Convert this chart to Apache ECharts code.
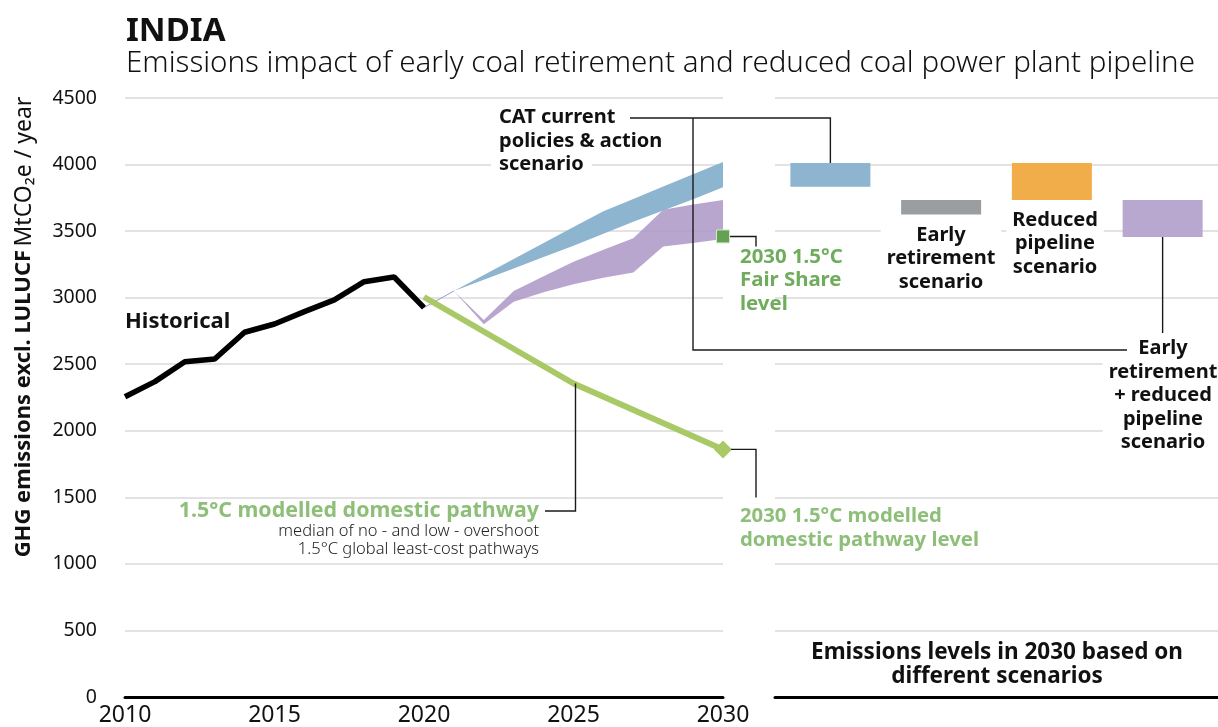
<!DOCTYPE html>
<html>
<head>
<meta charset="utf-8">
<title>India - emissions impact of early coal retirement</title>
<script src="https://cdn.jsdelivr.net/npm/echarts@6/dist/echarts.min.js"></script>
<style>
  html, body { margin: 0; padding: 0; background: #fff; }
  #main { width: 1218px; height: 727px; }
</style>
</head>
<body>
<div id="main"></div>
<script>
// Years on the left panel
var years = ['2010', '2011', '2012', '2013', '2014', '2015', '2016', '2017', '2018', '2019', '2020',
             '2021', '2022', '2023', '2024', '2025', '2026', '2027', '2028', '2029', '2030'];

// Historical emissions, MtCO2e
var historical = [2256, 2369, 2519, 2539, 2740, 2802, 2895, 2983, 3120, 3155, 2925,
                  null, null, null, null, null, null, null, null, null, null];

// Thin link between last historical year and the scenarios
var linkLine = [null, null, null, null, null, null, null, null, null, null, 2925,
                3050, null, null, null, null, null, null, null, null, null];

// CAT current policies & action range
var cpLow  = [null, null, null, null, null, null, null, null, null, null, null,
              3050, 3135, 3220, 3305, 3390, 3480, 3570, 3655, 3740, 3830];
var cpHigh = [null, null, null, null, null, null, null, null, null, null, null,
              3050, 3170, 3290, 3410, 3530, 3650, 3742, 3835, 3927, 4020];

// Early retirement + reduced pipeline range
var erLow  = [null, null, null, null, null, null, null, null, null, null, null,
              3050, 2800, 2970, 3040, 3100, 3150, 3190, 3385, 3410, 3440];
var erHigh = [null, null, null, null, null, null, null, null, null, null, null,
              3050, 2832, 3050, 3160, 3270, 3360, 3446, 3660, 3700, 3734];

// 1.5C modelled domestic pathway
var pathway = [null, null, null, null, null, null, null, null, null, null, 3005,
               null, null, null, null, 2355, null, null, null, null, 1860];

var fairShare2030 = 3460;
var modelled2030 = 1860;

// Right panel: 2030 levels per scenario
var scenarios = ['CAT current policies & action', 'Early retirement', 'Reduced pipeline',
                 'Early retirement + reduced pipeline'];
var scenarioLow  = [3834, 3624, 3734, 3456];
var scenarioHigh = [4012, 3734, 4012, 3734];
var scenarioColors = ['#8db5cf', '#9a9ea1', '#f0ad4a', '#b8a7ce'];

var yTicks = { min: 0, max: 4500, interval: 500 };

var F = '"Noto Sans", sans-serif';
var GREEN_LINE = '#a9c967';
var GREEN_TEXT = '#8dbf78';
var GREEN_FAIR = '#6fac5c';

function diff(hi, lo) {
    return hi.map(function (v, i) { return v == null ? null : v - lo[i]; });
}

var chart = echarts.init(document.getElementById('main'));

var option = {
    backgroundColor: '#fff',
    animation: false,
    textStyle: { fontFamily: F },
    title: {
        text: 'INDIA',
        subtext: 'Emissions impact of early coal retirement and reduced coal power plant pipeline',
        left: 121, top: 10, itemGap: 1,
        textStyle: { fontSize: 33, fontWeight: 'bold', color: '#111', fontFamily: F },
        subtextStyle: { fontSize: 29.5, fontWeight: 300, color: '#111', fontFamily: F }
    },
    grid: [
        { left: 125, width: 598, top: 98, height: 599 },
        { left: 775, width: 447, top: 98, height: 599 }
    ],
    xAxis: [{
        type: 'category', gridIndex: 0, data: years, boundaryGap: false,
        axisLine: { lineStyle: { color: '#000', width: 3 } },
        axisTick: { show: false },
        axisLabel: { interval: 4, fontSize: 23, color: '#111', margin: 7, fontFamily: F },
        splitLine: { show: false }
    }, {
        type: 'category', gridIndex: 1, data: scenarios,
        axisLine: { lineStyle: { color: '#000', width: 3 } },
        axisTick: { show: false },
        axisLabel: { show: false }
    }],
    yAxis: [{
        type: 'value', gridIndex: 0, min: yTicks.min, max: yTicks.max, interval: yTicks.interval,
        axisLine: { show: false }, axisTick: { show: false },
        axisLabel: { fontSize: 19.5, color: '#111', margin: 28, fontFamily: F,
                     formatter: function (v) { return String(v); } },
        splitLine: { lineStyle: { color: '#dadada', width: 1.5 } }
    }, {
        type: 'value', gridIndex: 1, min: yTicks.min, max: yTicks.max, interval: yTicks.interval,
        axisLine: { show: false }, axisTick: { show: false }, axisLabel: { show: false },
        splitLine: { lineStyle: { color: '#dadada', width: 1.5 } }
    }],
    series: [
        // current policies band
        { type: 'line', stack: 'cp', data: cpLow, symbol: 'none', lineStyle: { width: 0 }, z: 2 },
        { type: 'line', stack: 'cp', data: diff(cpHigh, cpLow), symbol: 'none',
          lineStyle: { width: 0 }, areaStyle: { color: '#8db5cf', opacity: 1 }, z: 2 },
        // early retirement + reduced pipeline band
        { type: 'line', stack: 'er', data: erLow, symbol: 'none', lineStyle: { width: 0 }, z: 3 },
        { type: 'line', stack: 'er', data: diff(erHigh, erLow), symbol: 'none',
          lineStyle: { width: 0 }, areaStyle: { color: 'rgb(173,151,199)', opacity: 0.85 }, z: 3 },
        { type: 'line', data: linkLine, symbol: 'none', lineStyle: { color: '#9c98d0', width: 1 }, z: 3 },
        // historical
        { type: 'line', data: historical, symbol: 'none', lineStyle: { color: '#000', width: 5.5 }, z: 5 },
        // 1.5C pathway
        { type: 'line', data: pathway, connectNulls: true, symbol: 'none',
          lineStyle: { color: GREEN_LINE, width: 6 }, z: 4 },
        { type: 'scatter', data: [['2030', modelled2030]], symbol: 'diamond', symbolSize: 18,
          itemStyle: { color: GREEN_LINE, opacity: 1 }, z: 6 },
        { type: 'scatter', data: [['2030', fairShare2030]], symbol: 'rect', symbolSize: 13,
          itemStyle: { color: '#62a252', borderColor: '#d5e8cc', borderWidth: 1, opacity: 1 }, z: 6 },
        // right panel floating boxes
        { type: 'bar', xAxisIndex: 1, yAxisIndex: 1, stack: 'box', barWidth: 80,
          data: scenarioLow, itemStyle: { color: 'rgba(0,0,0,0)' }, silent: true },
        { type: 'bar', xAxisIndex: 1, yAxisIndex: 1, stack: 'box', barWidth: 80,
          data: diff(scenarioHigh, scenarioLow).map(function (v, i) {
              return { value: v, itemStyle: { color: scenarioColors[i] } };
          }) }
    ]
};

chart.setOption(option);

function px(x, y) { return chart.convertToPixel({ gridIndex: 0 }, [x, y]); }
function px2(i, y) { return chart.convertToPixel({ gridIndex: 1 }, [i, y]); }

function label(x, y, text, o) {
    o = o || {};
    var st = {
        x: x, y: y, text: text,
        fill: o.color || '#111',
        fontFamily: F, fontSize: o.size || 20, fontWeight: o.weight || 'bold',
        align: o.align || 'left', textAlign: o.align || 'left',
        verticalAlign: 'middle', textVerticalAlign: 'middle',
        lineHeight: o.lh || 23.5
    };
    if (o.bg) { st.backgroundColor = o.bg; st.padding = o.pad || [0, 6]; }
    return { type: 'text', z: 50, style: st };
}

function wire(points) {
    return { type: 'polyline', z: 60, shape: { points: points },
             style: { stroke: '#1a1a1a', lineWidth: 1.4, fill: null } };
}

var box0 = px2(0, scenarioHigh[0]);
var box3 = px2(3, scenarioLow[3]);
var fs = px('2030', fairShare2030);
var md = px('2030', modelled2030);
var p25 = px('2025', pathway[15]);

chart.setOption({
    graphic: [
        // y axis title, rotated
        { type: 'text', x: 24, y: 327, rotation: Math.PI / 2, z: 50,
          style: {
              text: '{b|GHG emissions excl. LULUCF} {n|MtCO\u2082e / year}',
              align: 'center', textAlign: 'center',
              verticalAlign: 'middle', textVerticalAlign: 'middle',
              rich: {
                  b: { fontSize: 22, fontWeight: 'bold', fill: '#111', color: '#111', fontFamily: F },
                  n: { fontSize: 23, fontWeight: 'normal', fill: '#111', color: '#111', fontFamily: F }
              }
          } },
        label(125, 322, 'Historical', { size: 22 }),
        label(499, 129.5, 'CAT current\npolicies & action'),
        label(491, 164, 'scenario', { bg: '#fff', pad: [0, 8, 0, 8] }),
        label(740, 280.5, '2030 1.5\u00b0C\nFair Share\nlevel', { size: 20.4, color: GREEN_FAIR }),
        label(941, 258.5, 'Early\nretirement\nscenario', { align: 'center', bg: '#fff' }),
        label(1055, 243.5, 'Reduced\npipeline\nscenario', { align: 'center', bg: '#fff' }),
        label(1163, 395.5, 'Early\nretirement\n+ reduced\npipeline\nscenario', { align: 'center', bg: '#fff' }),
        label(539, 511, '1.5\u00b0C modelled domestic pathway', { align: 'right', size: 21.4, color: GREEN_TEXT }),
        label(539, 540, 'median of no - and low - overshoot\n1.5\u00b0C global least-cost pathways',
              { align: 'right', size: 16.5, weight: 300, lh: 18, color: '#222' }),
        label(740, 528, '2030 1.5\u00b0C modelled\ndomestic pathway level', { size: 20.3, lh: 24, color: GREEN_TEXT }),
        label(997, 665, 'Emissions levels in 2030 based on\ndifferent scenarios', { align: 'center', size: 22.5, lh: 24 }),

        wire([[630, 118], [box0[0], 118], [box0[0], box0[1]]]),
        wire([[693, 118], [693, 350], [1127, 350]]),
        wire([[box3[0], box3[1]], [box3[0], 333]]),
        wire([[fs[0] + 7, fs[1]], [fs[0] + 33, fs[1]], [fs[0] + 33, fs[1] + 10]]),
        wire([[md[0] + 8, md[1]], [md[0] + 33, md[1]], [md[0] + 33, md[1] + 48]]),
        wire([[545, 511], [p25[0] + 2, 511], [p25[0] + 2, p25[1]]])
    ]
});
</script>
</body>
</html>
